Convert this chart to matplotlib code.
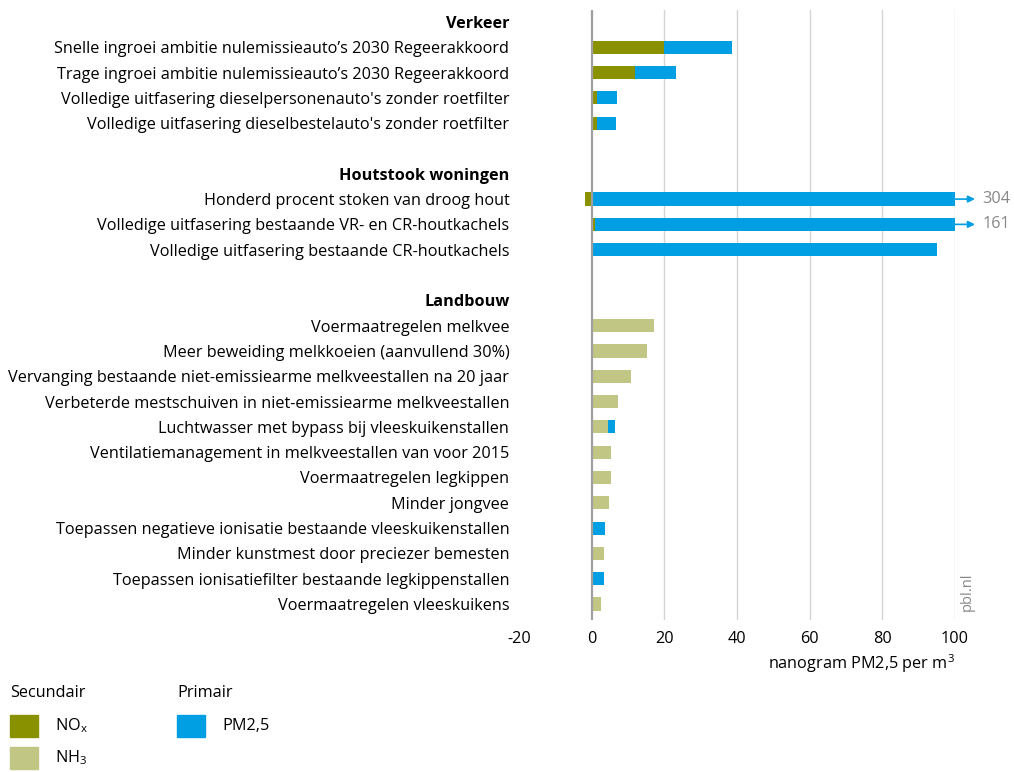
import matplotlib
matplotlib.use("Agg")
import matplotlib.pyplot as plt
import numpy as np

plt.rcParams["font.family"] = ["Open Sans", "DejaVu Sans"]
plt.rcParams["axes.unicode_minus"] = False

C_NOX = "#8a9100"
C_NH3 = "#c1c684"
C_PM = "#009fe3"
XMAX = 100
FS = 11.7

groups = ["Verkeer", "Houtstook woningen", "Landbouw"]
labels = [
    ["Snelle ingroei ambitie nulemissieauto\u2019s 2030 Regeerakkoord",
     "Trage ingroei ambitie nulemissieauto\u2019s 2030 Regeerakkoord",
     "Volledige uitfasering dieselpersonenauto's zonder roetfilter",
     "Volledige uitfasering dieselbestelauto's zonder roetfilter"],
    ["Honderd procent stoken van droog hout",
     "Volledige uitfasering bestaande VR- en CR-houtkachels",
     "Volledige uitfasering bestaande CR-houtkachels"],
    ["Voermaatregelen melkvee",
     "Meer beweiding melkkoeien (aanvullend 30%)",
     "Vervanging bestaande niet-emissiearme melkveestallen na 20 jaar",
     "Verbeterde mestschuiven in niet-emissiearme melkveestallen",
     "Luchtwasser met bypass bij vleeskuikenstallen",
     "Ventilatiemanagement in melkveestallen van voor 2015",
     "Voermaatregelen legkippen",
     "Minder jongvee",
     "Toepassen negatieve ionisatie bestaande vleeskuikenstallen",
     "Minder kunstmest door preciezer bemesten",
     "Toepassen ionisatiefilter bestaande legkippenstallen",
     "Voermaatregelen vleeskuikens"],
]
nox = [[20.0, 12.0, 1.6, 1.6], [-1.7, 0.8, 0.5], [0] * 12]
nh3 = [[0, 0, 0, 0], [0, 0, 0],
       [17.1, 15.2, 10.7, 7.2, 4.4, 5.2, 5.2, 4.9, 0, 3.3, 0, 2.5]]
pm = [[18.6, 11.1, 5.3, 5.0], [304, 161, 94.5],
      [0, 0, 0, 0, 1.9, 0, 0, 0, 3.6, 0, 3.3, 0]]

fig = plt.figure(figsize=(10.14, 7.72), dpi=100)
ax = fig.add_axes([519 / 1014, 1 - 620 / 772, (955 - 519) / 1014, 610 / 772])

ticks, ticklabels, bold = [], [], []
pos = 0
for g, labs, nx, nh, p in zip(groups, labels, nox, nh3, pm):
    ticks.append(pos)
    ticklabels.append(g)
    bold.append(True)
    pos += 1
    for lab, a, b, c in zip(labs, nx, nh, p):
        ticks.append(pos)
        ticklabels.append(lab)
        bold.append(False)
        left = 0
        if a < 0:
            ax.barh(pos, a, 0.52, color=C_NOX, zorder=3)
        elif a > 0:
            ax.barh(pos, a, 0.52, left=left, color=C_NOX, zorder=3)
            left += a
        if b > 0:
            ax.barh(pos, b, 0.52, left=left, color=C_NH3, zorder=3)
            left += b
        if c > 0:
            w = min(c, XMAX - left)
            ax.barh(pos, w, 0.52, left=left, color=C_PM, zorder=3)
            if left + c > XMAX:
                ax.annotate("", xy=(105.5, pos), xytext=(XMAX, pos),
                            arrowprops=dict(arrowstyle="-|>", color=C_PM, lw=1.2,
                                            mutation_scale=10, shrinkA=0, shrinkB=0),
                            annotation_clip=False)
                ax.text(107.5, pos, f"{c:g}", va="center", ha="left",
                        fontsize=FS, color="#888888")
        pos += 1
    pos += 1

ax.set_xlim(-20, XMAX)
ax.set_ylim(ticks[-1] + 0.63, -0.47)
ax.set_xticks([-20, 0, 20, 40, 60, 80, 100])
ax.set_yticks(ticks)
ax.set_yticklabels(ticklabels, fontsize=FS)
for t, b in zip(ax.get_yticklabels(), bold):
    if b:
        t.set_fontweight("bold")
ax.tick_params(axis="y", length=0, pad=7)
ax.tick_params(axis="x", length=0, pad=8, labelsize=FS)
for s in ax.spines.values():
    s.set_visible(False)
for v in [20, 40, 60, 80, 100]:
    ax.axvline(v, color="#d4d4d4", lw=1, zorder=1)
ax.axvline(0, color="#a0a0a0", lw=1.6, zorder=4)

fig.text(955 / 1014, 1 - 664 / 772, "nanogram PM2,5 per m$^\\mathregular{3}$", ha="right",
         va="center", fontsize=FS)
fig.text(967 / 1014, 1 - 592 / 772, "pbl.nl", rotation=90, ha="center",
         va="center", fontsize=10.5, color="#888888")

# legend
fig.text(10 / 1014, 1 - 693 / 772, "Secundair", fontsize=FS, va="center")
fig.text(177 / 1014, 1 - 693 / 772, "Primair", fontsize=FS, va="center")
for x0, y0, col, txt in [(10, 715, C_NOX, "NO$_\\mathregular{x}$"),
                         (10, 747, C_NH3, "NH$_\\mathregular{3}$"),
                         (177, 715, C_PM, "PM2,5")]:
    fig.patches.append(plt.Rectangle((x0 / 1014, 1 - (y0 + 22) / 772), 28 / 1014,
                                     22 / 772, color=col, transform=fig.transFigure))
    fig.text((x0 + 45) / 1014, 1 - (y0 + 11) / 772, txt, fontsize=FS, va="center")

fig.savefig("out.png", dpi=100)
